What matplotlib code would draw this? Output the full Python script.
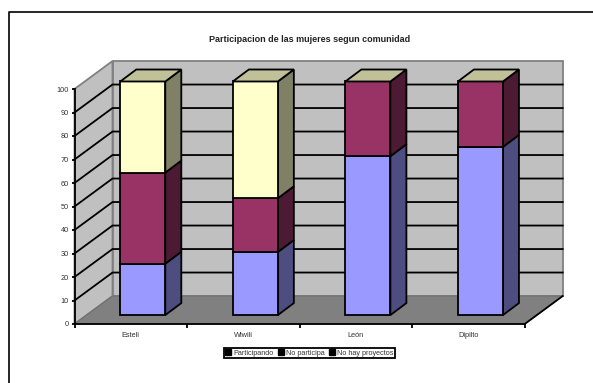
import matplotlib
matplotlib.use('Agg')
import matplotlib.pyplot as plt
from matplotlib.patches import Patch, Polygon

plt.rcParams['font.family'] = ['Liberation Sans', 'DejaVu Sans']

comunidades = ['Esteli', 'Wiwili', 'León', 'Dipilto']
series = ['Participando', 'No participa', 'No hay proyectos']
participando = [22, 27, 68, 72]
no_participa = [39, 23, 32, 28]
no_hay = [39, 50, 0, 0]
y_ticks = [0, 10, 20, 30, 40, 50, 60, 70, 80, 90, 100]

front_colors = ['#9999FF', '#993366', '#FFFFCC']
side_colors = ['#4D4D80', '#4D1A33', '#808066']
top_color = '#C0C099'

W, H = 593, 383
# 3d look: depth of the box and of the bars, in axis units
DX = 38 / 112.5
DY = 11.9
BAR_W = 0.4
BAR_DX = 16 / 112.5
BAR_DY = 5.1
OFF_DX = 12 / 112.5
OFF_DY = 3.8
BAR_SCALE = 0.994
LW = 1.3

fig = plt.figure(figsize=(W / 100, H / 100), dpi=100, facecolor='white')
ax = fig.add_axes([74.5 / W, 1 - 324 / H, 450.2 / W, 235 / H])
ax.set_xlim(0, 4)
ax.set_ylim(0, 100)
ax.patch.set_visible(False)


def poly(pts, fc, ec='black', lw=LW, z=2):
    ax.add_patch(Polygon(pts, closed=True, facecolor=fc, edgecolor=ec, linewidth=lw,
                         zorder=z, clip_on=False, joinstyle='miter'))


# walls and floor
poly([(0, 0), (DX, DY), (DX, 100 + DY), (0, 100)], '#C0C0C0', '#808080', 1.3, 1)
poly([(DX, DY), (4 + DX, DY), (4 + DX, 100 + DY), (DX, 100 + DY)], '#C0C0C0', '#808080', 1.3, 1)
poly([(0, 0), (4, 0), (4 + DX, DY), (DX, DY)], '#808080', '#707070', 0.8, 1)

# gridlines on both walls
for v in y_ticks[1:-1]:
    ax.plot([0, DX, 4 + DX], [v, v + DY, v + DY], color='black', lw=LW, zorder=1.5,
            clip_on=False, solid_joinstyle='miter')
ax.plot([4, 4 + DX], [0, DY], color='black', lw=LW, zorder=1.5, clip_on=False)

# stacked bars, bottom segment first
for i in range(len(comunidades)):
    x0 = i + 0.5 - BAR_W / 2 + OFF_DX
    x1 = x0 + BAR_W
    base = OFF_DY
    values = [participando[i], no_participa[i], no_hay[i]]
    for val, fc, sc in zip(values, front_colors, side_colors):
        top = base + val * BAR_SCALE
        if val > 0:
            poly([(x1, base), (x1 + BAR_DX, base + BAR_DY),
                  (x1 + BAR_DX, top + BAR_DY), (x1, top)], sc, z=3)
            poly([(x0, base), (x1, base), (x1, top), (x0, top)], fc, z=4)
        base = top
    poly([(x0, base), (x1, base), (x1 + BAR_DX, base + BAR_DY),
          (x0 + BAR_DX, base + BAR_DY)], top_color, z=5)

# axes
for s in ['top', 'right']:
    ax.spines[s].set_visible(False)
for s in ['left', 'bottom']:
    ax.spines[s].set_linewidth(LW)
    ax.spines[s].set_zorder(6)
ax.set_yticks(y_ticks)
ax.tick_params(axis='y', length=2.5, width=LW, labelsize=5.3, pad=1.5, labelcolor='#333333')
ax.set_xticks(range(5))
ax.set_xticklabels([])
ax.tick_params(axis='x', which='major', length=3, width=LW)
ax.set_xticks([i + 0.5 for i in range(4)], minor=True)
ax.set_xticklabels(comunidades, minor=True, fontsize=5.3, color='#333333')
ax.tick_params(axis='x', which='minor', length=0, pad=6)

fig.text(310 / W, 1 - 39 / H, 'Participacion de las mujeres segun comunidad',
         fontsize=6.5, fontweight='bold', ha='center', va='center', color='#222222')

# chart frame, only top and left sides fall inside the image
fig.add_artist(plt.Line2D([8.5 / W, 8.5 / W, 1], [0, 1 - 11.5 / H, 1 - 11.5 / H],
                          color='black', lw=1.2))

handles = [Patch(facecolor='black', edgecolor='black', label=s) for s in series]
leg = fig.legend(handles=handles, loc='center', bbox_to_anchor=(309.5 / W, 1 - 353 / H),
                 ncol=3, fontsize=5.25, fancybox=False, framealpha=1, edgecolor='black',
                 labelcolor='#333333', handlelength=0.8, handleheight=0.7, handletextpad=0.3,
                 columnspacing=0.6, borderpad=0.2, borderaxespad=0)
leg.get_frame().set_linewidth(1.3)

fig.savefig('out.png', dpi=100)
